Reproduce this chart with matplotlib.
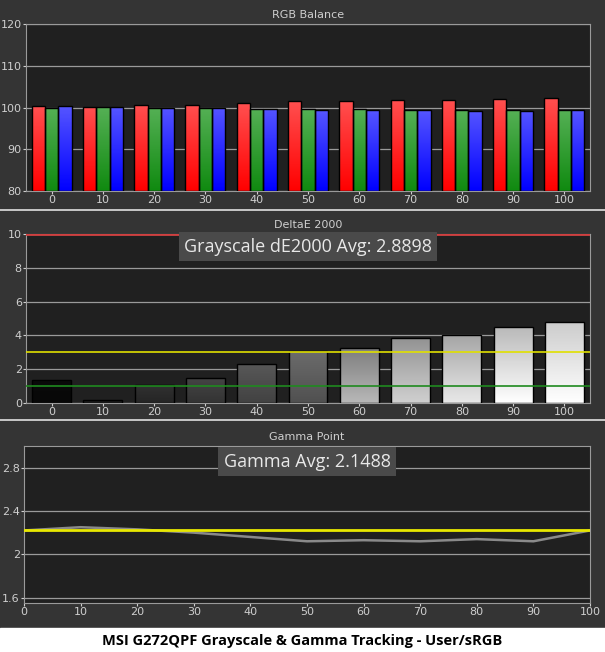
import matplotlib
matplotlib.use("Agg")
import matplotlib.pyplot as plt
import numpy as np

levels = [0, 10, 20, 30, 40, 50, 60, 70, 80, 90, 100]
red = [100.3, 100.1, 100.6, 100.6, 101.1, 101.6, 101.6, 101.8, 101.8, 102.0, 102.3]
green = [99.9, 100.1, 99.9, 99.9, 99.7, 99.7, 99.7, 99.4, 99.4, 99.4, 99.4]
blue = [100.3, 100.1, 99.9, 99.9, 99.7, 99.4, 99.4, 99.4, 99.2, 99.2, 99.4]
deltae = [1.35, 0.15, 1.05, 1.45, 2.3, 3.05, 3.25, 3.85, 4.0, 4.5, 4.8]
gamma = [2.22, 2.25, 2.23, 2.20, 2.16, 2.12, 2.13, 2.12, 2.14, 2.12, 2.22]
gamma_target = 2.22

W, H = 605, 652
fig = plt.figure(figsize=(W/100, H/100), dpi=100, facecolor="#343434")
TXT = "#cfcfcf"

def ax_at(l, t, r, b):
    ax = fig.add_axes([l/W, 1-b/H, (r-l)/W, (b-t)/H])
    ax.set_facecolor("#202020")
    for s in ax.spines.values():
        s.set_color("#9a9a9a")
    ax.tick_params(colors=TXT, labelsize=8, length=2, pad=1)
    ax.grid(axis="y", color="#9a9a9a", lw=0.9)
    ax.set_axisbelow(True)
    return ax

def gbar(ax, x, h, w, base, c_top, c_bot):
    grad = np.linspace(0, 1, 64).reshape(-1, 1)
    c_top = np.array(matplotlib.colors.to_rgb(c_top)); c_bot = np.array(matplotlib.colors.to_rgb(c_bot))
    img = c_bot[None, None, :] * (1-grad[..., None]) + c_top[None, None, :] * grad[..., None]
    rect = ax.bar(x, h - base, w, bottom=base, color="none", edgecolor="black", lw=1, zorder=3)[0]
    im = ax.imshow(img, extent=[x-w/2, x+w/2, base, h], origin="lower", aspect="auto", zorder=2)
    im.set_clip_path(rect)

# Panel 1
ax1 = ax_at(26, 24, 590, 191)
x = np.arange(len(levels))
w = 0.26
for i in range(len(levels)):
    gbar(ax1, x[i]-w, red[i], w, 80, "#ff5050", "#ff0000")
    gbar(ax1, x[i], green[i], w, 80, "#55b055", "#108a10")
    gbar(ax1, x[i]+w, blue[i], w, 80, "#5555ff", "#0000ff")
ax1.set_xlim(-0.5, len(levels)-0.5)
ax1.set_ylim(80, 120)
ax1.set_yticks([80, 90, 100, 110, 120])
ax1.set_xticks(x, [str(v) for v in levels])
ax1.set_title("RGB Balance", color=TXT, fontsize=8, pad=4)

# Panel 2
ax2 = ax_at(26, 234, 590, 403)
for i in range(len(levels)):
    g = 0.05 + 0.95 * i / 10
    gbar(ax2, x[i], deltae[i], 0.76, 0, (min(1, g*0.8),)*3, (min(1, g+0.1) if i > 5 else g*0.6,)*3)
ax2.axhline(3, color="#e0e000", lw=1.2, zorder=4)
ax2.axhline(1, color="#1f8a1f", lw=1.2, zorder=4)
ax2.axhline(10, color="#d04040", lw=2, zorder=4)
ax2.set_xlim(-0.5, len(levels)-0.5)
ax2.set_ylim(0, 10)
ax2.set_yticks([0, 2, 4, 6, 8, 10])
ax2.set_xticks(x, [str(v) for v in levels])
ax2.set_title("DeltaE 2000", color=TXT, fontsize=8, pad=4)
ax2.text(0.5, 0.925, "Grayscale dE2000 Avg: 2.8898", transform=ax2.transAxes, ha="center", va="center",
         fontsize=13, color="#e8e8e8", family="Open Sans",
         bbox=dict(boxstyle="square,pad=0.3", fc="#4a4a4a", ec="none"), zorder=5)

# Panel 3
ax3 = ax_at(24, 446, 590, 603)
ax3.plot(levels, gamma, color="#8a8a8a", lw=1.8, zorder=3)
ax3.axhline(gamma_target, color="#e8e800", lw=2, zorder=4)
ax3.set_xlim(0, 100)
ax3.set_ylim(1.55, 3.0)
ax3.set_yticks([1.6, 2.0, 2.4, 2.8], ["1.6", "2", "2.4", "2.8"])
ax3.set_xticks(levels)
ax3.set_title("Gamma Point", color=TXT, fontsize=8, pad=4)
ax3.text(0.5, 0.9, "Gamma Avg: 2.1488", transform=ax3.transAxes, ha="center", va="center",
         fontsize=13, color="#e8e8e8", family="Open Sans",
         bbox=dict(boxstyle="square,pad=0.3", fc="#4a4a4a", ec="none"), zorder=5)

for yy in (210, 420):
    fig.add_artist(plt.Line2D([0, 1], [1-yy/H, 1-yy/H], color="#e0e0e0", lw=1.2))
fig.add_artist(plt.Rectangle((0, 0), 1, 1-628/H, color="white", transform=fig.transFigure))
fig.text(0.5, 1-641/H, "MSI G272QPF Grayscale & Gamma Tracking - User/sRGB", ha="center", va="center",
         fontsize=10.5, fontweight="bold", family="Open Sans", color="black")

fig.savefig("out.png", dpi=100, facecolor=fig.get_facecolor())
